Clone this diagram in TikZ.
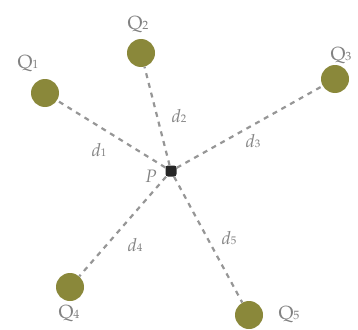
\documentclass[tikz,border=0pt]{standalone}
\usepackage{fontspec}
\setmainfont{TeX Gyre Pagella}
\definecolor{olive}{RGB}{138,136,58}
\definecolor{lab}{RGB}{130,130,130}
\definecolor{dashgray}{RGB}{150,150,150}
\begin{document}
\begin{tikzpicture}[x=1pt,y=-1pt,
  charge/.style={circle,fill=olive,minimum size=28pt,inner sep=0pt},
  pnt/.style={rounded corners=2.5pt,fill=black!85,minimum size=11pt,inner sep=0pt},
  conn/.style={draw=dashgray,line width=2.2pt,dash pattern=on 5pt off 5pt},
  lbl/.style={text=lab,font=\fontsize{19}{20}\selectfont,inner sep=0pt},
  dl/.style={text=lab,font=\fontsize{18}{20}\selectfont\itshape,inner sep=0pt}]
\useasboundingbox (0,0) rectangle (358,329);
\node[charge] (q1) at (45,93) {};
\node[charge] (q2) at (141,53) {};
\node[charge] (q3) at (335,79) {};
\node[charge] (q4) at (70,287) {};
\node[charge] (q5) at (249,315) {};
\node[pnt] (p) at (171,171) {};
\draw[conn] (p) -- (q1);
\draw[conn] (p) -- (q2);
\draw[conn] (p) -- (q3);
\draw[conn] (p) -- (q4);
\draw[conn] (p) -- (q5);
\node[lbl] (lq1) at (28,63) {Q\raisebox{0pt}{\fontsize{12}{12}\selectfont 1}};
\node[lbl] (lq2) at (138,24) {Q\raisebox{0pt}{\fontsize{12}{12}\selectfont 2}};
\node[lbl] (lq3) at (341,55) {Q\raisebox{0pt}{\fontsize{12}{12}\selectfont 3}};
\node[lbl] (lq4) at (69,313) {Q\raisebox{0pt}{\fontsize{12}{12}\selectfont 4}};
\node[lbl] (lq5) at (289,314) {Q\raisebox{0pt}{\fontsize{12}{12}\selectfont 5}};
\node[dl] (lp) at (151,176) {P};
\node[dl] (d1) at (99,150) {d\raisebox{0pt}{\fontsize{11}{11}\selectfont\upshape 1}};
\node[dl] (d2) at (179,116) {d\raisebox{0pt}{\fontsize{11}{11}\selectfont\upshape 2}};
\node[dl] (d3) at (253,141) {d\raisebox{0pt}{\fontsize{11}{11}\selectfont\upshape 3}};
\node[dl] (d4) at (135,245) {d\raisebox{0pt}{\fontsize{11}{11}\selectfont\upshape 4}};
\node[dl] (d5) at (229,238) {d\raisebox{0pt}{\fontsize{11}{11}\selectfont\upshape 5}};
\end{tikzpicture}
\end{document}
